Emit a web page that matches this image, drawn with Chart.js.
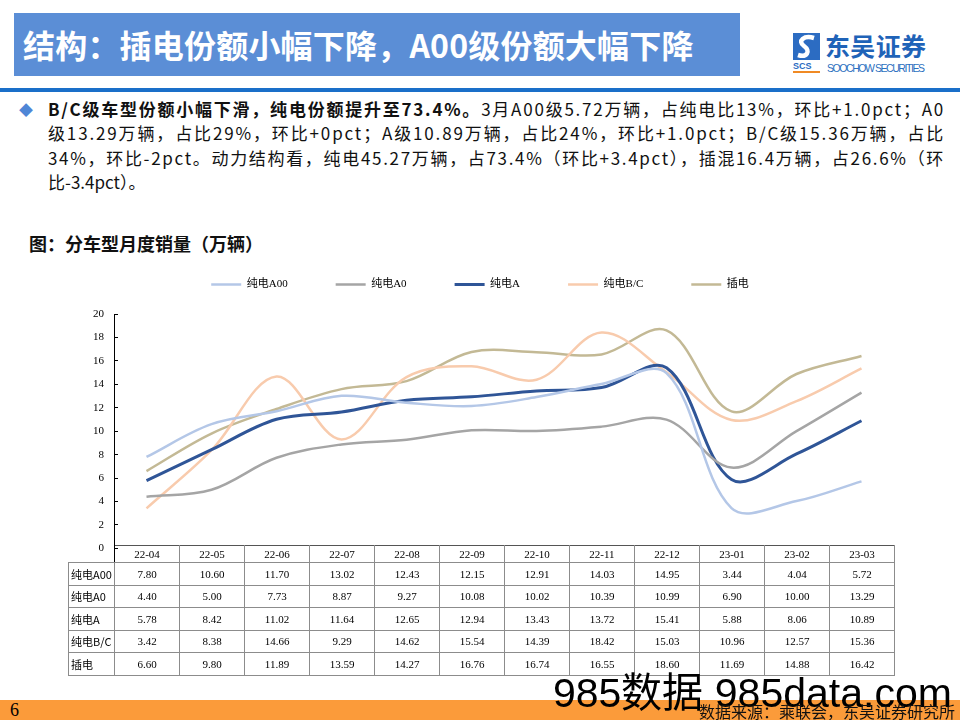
<!DOCTYPE html>
<html lang="zh-CN">
<head>
<meta charset="utf-8">
<title>分车型月度销量</title>
<script src="https://cdn.jsdelivr.net/npm/chart.js@4.4.1/dist/chart.umd.min.js"></script>
<style>
  html, body { margin: 0; padding: 0; }
  body { width: 960px; height: 720px; position: relative; overflow: hidden; background: #fff;
         font-family: 'Noto Sans CJK SC', 'Noto Sans', sans-serif; color: #111; }
  #head { position: absolute; left: 14px; top: 13px; width: 726px; height: 63px; background: #5b8ed6; }
  #head h1 { margin: 0; position: absolute; left: 9px; top: 11px; font-size: 32px; line-height: 40px;
             color: #fff; font-weight: bold; white-space: nowrap; letter-spacing: 0.2px; }
  #rule { position: absolute; left: 0; top: 88px; width: 960px; height: 4px; background: #1a6fc9; }
  #logo { position: absolute; left: 790px; top: 30px; }
  #bullet { position: absolute; left: 19px; top: 99px; color: #4f86d6; font-size: 14px; line-height: 20px; }
  #intro { position: absolute; left: 48px; top: 97px; width: 897px; font-size: 17px; line-height: 24.4px; }
  #intro div { white-space: nowrap; }
  #ctitle { position: absolute; left: 29px; top: 231px; font-size: 18px; line-height: 24px; font-weight: bold; }
  #wrap { position: absolute; left: 66px; top: 231px; width: 828px; height: 338px; }
  #tbl { position: absolute; left: 68px; top: 545px; border-collapse: collapse; table-layout: fixed;
         font-family: 'Liberation Serif', 'Times New Roman', serif; font-size: 11px; color: #000; }
  #tbl td { border: 1px solid #8c8c8c; text-align: center; padding: 0; overflow: hidden; white-space: nowrap; }
  #tbl tr.hd td { height: 16px; border-top-color: #555; }
  #tbl tr.hd td.blank { border-top: none; border-left: none; border-right-color: #000; }
  #tbl tr.rw td { height: 21.5px; }
  #tbl td.lab { text-align: left; padding-left: 2px; font-family: 'Noto Sans CJK SC', sans-serif; font-size: 11px; }
  #footbar { position: absolute; left: 0; top: 700px; width: 960px; height: 20px; background: #fb9b3a; }
  #page { position: absolute; left: 10px; top: 700px; font-family: 'Liberation Serif', serif; font-size: 18px; line-height: 20px; color: #000; }
  #mark { position: absolute; left: 553px; top: 670px; font-family: 'Liberation Sans', sans-serif; font-size: 41px;
          line-height: 46px; color: #000; white-space: nowrap; }
  #source { position: absolute; right: 5px; top: 702px; font-size: 16px; line-height: 18px; color: #111; white-space: nowrap; }
</style>
</head>
<body>
<div id="head"><h1>结构：插电份额小幅下降，A00级份额大幅下降</h1></div>
<svg id="logo" width="140" height="50">
  <rect x="3" y="3" width="27" height="27" fill="#2c6cc2"/>
  <path d="M24 8 C 14 5, 7 11, 14 16 C 21 21, 17 28, 8 25" stroke="#fff" stroke-width="4.5" fill="none"/>
  <text x="3" y="39" font-size="9" font-weight="bold" fill="#2c6cc2" font-family="Liberation Sans">SCS</text>
  <rect x="3" y="41" width="27" height="2" fill="#f08a24"/>
  <text x="35" y="26" font-size="25" font-weight="bold" fill="#1f63b8" font-family="Noto Sans CJK SC" textLength="101">东吴证券</text>
  <text x="37" y="42" font-size="10.5" fill="#2a6fc0" font-family="Liberation Sans" textLength="98">SOOCHOW SECURITIES</text>
</svg>
<div id="rule"></div>

<div id="bullet">◆</div>
<div id="intro">
  <div><span class="fit"><b>B/C级车型份额小幅下滑，纯电份额提升至73.4%。</b>3月A00级5.72万辆，占纯电比13%，环比+1.0pct；A0</span></div>
  <div><span class="fit">级13.29万辆，占比29%，环比+0pct；A级10.89万辆，占比24%，环比+1.0pct；B/C级15.36万辆，占比</span></div>
  <div><span class="fit">34%，环比-2pct。动力结构看，纯电45.27万辆，占73.4%（环比+3.4pct），插混16.4万辆，占26.6%（环</span></div>
  <div><span>比-3.4pct）。</span></div>
</div>

<div id="ctitle">图：分车型月度销量（万辆）</div>
<div id="wrap"><canvas id="chart"></canvas></div>
<table id="tbl"></table>

<div id="footbar"></div>
<div id="page">6</div>
<div id="mark">985数据 985data.com</div>
<div id="source">数据来源：乘联会，东吴证券研究所</div>

<script>
'use strict';

const categories = ['22-04', '22-05', '22-06', '22-07', '22-08', '22-09', '22-10', '22-11', '22-12', '23-01', '23-02', '23-03'];
const pureA00 = [7.80, 10.60, 11.70, 13.02, 12.43, 12.15, 12.91, 14.03, 14.95, 3.44, 4.04, 5.72];
const pureA0 = [4.40, 5.00, 7.73, 8.87, 9.27, 10.08, 10.02, 10.39, 10.99, 6.90, 10.00, 13.29];
const pureA = [5.78, 8.42, 11.02, 11.64, 12.65, 12.94, 13.43, 13.72, 15.41, 5.88, 8.06, 10.89];
const pureBC = [3.42, 8.38, 14.66, 9.29, 14.62, 15.54, 14.39, 18.42, 15.03, 10.96, 12.57, 15.36];
const plugIn = [6.60, 9.80, 11.89, 13.59, 14.27, 16.76, 16.74, 16.55, 18.60, 11.69, 14.88, 16.42];
const seriesNames = ['纯电A00', '纯电A0', '纯电A', '纯电B/C', '插电'];
const seriesValues = [pureA00, pureA0, pureA, pureBC, plugIn];
const seriesColors = ['#b4c7e7', '#a5a5a5', '#2f5597', '#f8cbad', '#c3b995'];
const seriesWidths = [2.5, 2.5, 3, 2.5, 2.5];
const yMin = 0;
const yMax = 20;
const yStep = 2;

const SERIF = "'Liberation Serif', 'Times New Roman', 'Noto Sans CJK SC', serif";
const INTRO_WIDTH = 897;

function $(id) { return document.getElementById(id); }

// spread each full line of the intro paragraph to the column width
function fitIntro() {
  document.querySelectorAll('#intro .fit').forEach(el => {
    el.style.letterSpacing = '0px';
    const w = el.getBoundingClientRect().width;
    const n = el.textContent.length;
    el.style.letterSpacing = ((INTRO_WIDTH - w) / n) + 'px';
  });
}

// push the plot area down a bit below the legend row
const legendGap = {
  id: 'legendGap',
  beforeInit(chart) {
    const fit = chart.legend.fit;
    chart.legend.fit = function () {
      fit.call(this);
      this.height += 14;
    };
  }
};

function buildChart() {
  const datasets = seriesNames.map((name, i) => ({
    label: name,
    data: seriesValues[i],
    borderColor: seriesColors[i],
    backgroundColor: seriesColors[i],
    borderWidth: seriesWidths[i],
    pointRadius: 0,
    tension: 0.35,
    fill: false
  }));

  return new Chart($('chart').getContext('2d'), {
    type: 'line',
    data: { labels: categories, datasets },
    plugins: [legendGap],
    options: {
      responsive: true,
      maintainAspectRatio: false,
      animation: false,
      layout: { padding: 0 },
      plugins: {
        legend: {
          position: 'top',
          align: 'center',
          labels: {
            usePointStyle: true,
            pointStyle: 'line',
            pointStyleWidth: 30,
            padding: 48,
            color: '#000',
            font: { family: SERIF, size: 11 }
          }
        },
        tooltip: { enabled: false }
      },
      scales: {
        x: { display: false, offset: true },
        y: {
          min: yMin,
          max: yMax,
          afterFit(scale) { scale.width = 48; },
          ticks: { stepSize: yStep, color: '#000', padding: 14, font: { family: SERIF, size: 11 } },
          grid: { drawOnChartArea: false, drawTicks: true, tickLength: -4, tickColor: '#000' },
          border: { display: true, color: '#000', width: 1 }
        }
      }
    }
  });
}

function buildTable() {
  const tbl = $('tbl');
  const colgroup = document.createElement('colgroup');
  const c0 = document.createElement('col');
  c0.style.width = '46px';
  colgroup.appendChild(c0);
  categories.forEach(() => {
    const c = document.createElement('col');
    c.style.width = '65px';
    colgroup.appendChild(c);
  });
  tbl.appendChild(colgroup);

  const hd = document.createElement('tr');
  hd.className = 'hd';
  const blank = document.createElement('td');
  blank.className = 'blank';
  hd.appendChild(blank);
  categories.forEach(cat => {
    const td = document.createElement('td');
    td.textContent = cat;
    hd.appendChild(td);
  });
  tbl.appendChild(hd);

  seriesNames.forEach((name, i) => {
    const tr = document.createElement('tr');
    tr.className = 'rw';
    const lab = document.createElement('td');
    lab.className = 'lab';
    lab.textContent = name;
    tr.appendChild(lab);
    seriesValues[i].forEach(v => {
      const td = document.createElement('td');
      td.textContent = v.toFixed(2);
      tr.appendChild(td);
    });
    tbl.appendChild(tr);
  });
}

fitIntro();
buildTable();
buildChart();
</script>
</body>
</html>
